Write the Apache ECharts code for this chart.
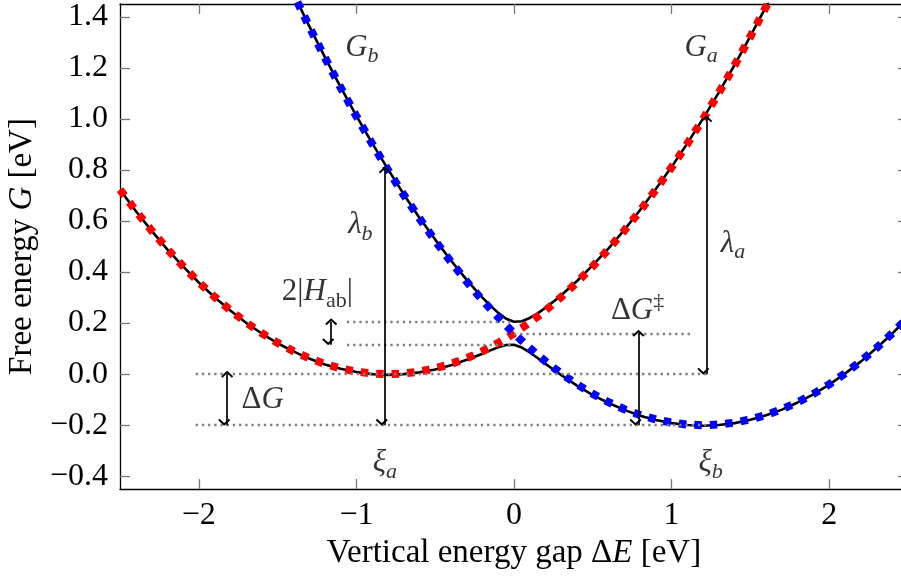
<!DOCTYPE html>
<html>
<head>
<meta charset="utf-8">
<script src="https://cdn.jsdelivr.net/npm/echarts@6.0.0/dist/echarts.min.js"></script>
<style>
  html, body { margin: 0; padding: 0; background: #fff; }
  #chart { width: 901px; height: 577px; }
</style>
</head>
<body>
<div id="chart"></div>
<script>
// vertical energy gap samples (eV), denser around the crossing
const gapX = [-2.5, -2.4, -2.3, -2.2, -2.1, -2.0, -1.9, -1.8, -1.7, -1.6, -1.5, -1.4, -1.3, -1.2, -1.1, -1.0,
  -0.9, -0.8, -0.7, -0.6, -0.5, -0.4, -0.3, -0.25, -0.2, -0.15, -0.1, -0.05, 0, 0.05, 0.1, 0.15, 0.2, 0.25,
  0.3, 0.4, 0.5, 0.6, 0.7, 0.8, 0.9, 1.0, 1.1, 1.2, 1.3, 1.4, 1.5, 1.6, 1.7, 1.8, 1.9, 2.0, 2.1, 2.2, 2.3, 2.4, 2.5];

// diabatic G_a (red)
const gA = [0.7225, 0.64, 0.5625, 0.49, 0.4225, 0.36, 0.3025, 0.25, 0.2025, 0.16, 0.1225, 0.09, 0.0625, 0.04, 0.0225, 0.01,
  0.0025, 0, 0.0025, 0.01, 0.0225, 0.04, 0.0625, 0.0756, 0.09, 0.1056, 0.1225, 0.1406, 0.16, 0.1806, 0.2025, 0.2256, 0.25, 0.2756,
  0.3025, 0.36, 0.4225, 0.49, 0.5625, 0.64, 0.7225, 0.81, 0.9025, 1.0, 1.1025, 1.21, 1.3225, 1.44, 1.5625, null, null, null, null, null, null, null, null];

// diabatic G_b (blue)
const gB = [null, null, null, null, null, null, null, null, null, null, 1.6225, 1.49, 1.3625, 1.24, 1.1225, 1.01,
  0.9025, 0.8, 0.7025, 0.61, 0.5225, 0.44, 0.3625, 0.3256, 0.29, 0.2556, 0.2225, 0.1906, 0.16, 0.1306, 0.1025, 0.0756, 0.05, 0.0256,
  0.0025, -0.04, -0.0775, -0.11, -0.1375, -0.16, -0.1775, -0.19, -0.1975, -0.2, -0.1975, -0.19, -0.1775, -0.16, -0.1375, -0.11, -0.0775, -0.04, 0.0025, 0.05, 0.1025, 0.16, 0.2225];

// adiabatic ground and excited states (black)
const gLower = [0.722, 0.639, 0.562, 0.489, 0.422, 0.359, 0.301, 0.249, 0.201, 0.159, 0.121, 0.089, 0.061, 0.038, 0.021, 0.008,
  0.000, -0.003, 0.000, 0.007, 0.018, 0.035, 0.056, 0.068, 0.080, 0.093, 0.105, 0.114, 0.115, 0.104, 0.085, 0.063, 0.040, 0.018,
  -0.004, -0.045, -0.082, -0.113, -0.140, -0.163, -0.180, -0.192, -0.199, -0.202, -0.199, -0.192, -0.179, -0.161, -0.139, -0.111, -0.079, -0.041, 0.002, 0.049, 0.102, 0.159, 0.222];
const gUpper = [null, null, null, null, null, null, null, null, null, null, 1.624, 1.492, 1.364, 1.242, 1.124, 1.012,
  0.905, 0.803, 0.705, 0.613, 0.527, 0.445, 0.369, 0.334, 0.300, 0.268, 0.240, 0.217, 0.205, 0.207, 0.220, 0.238, 0.260, 0.284,
  0.309, 0.365, 0.427, 0.493, 0.565, 0.643, 0.725, 0.812, 0.904, 1.002, 1.104, 1.212, 1.324, 1.441, 1.564, null, null, null, null, null, null, null, null];

const xTicks = [-2, -1, 0, 1, 2];
const yTicks = [-0.4, -0.2, 0, 0.2, 0.4, 0.6, 0.8, 1.0, 1.2, 1.4];

// dotted guides: [level, from x, to x]
const guides = [[0.205, -1.06, 0], [0.115, -1.06, 0], [0.16, 0, 1.12], [0, -2.02, 1.22], [-0.2, -2.02, 1.22]];
// double arrows: [x, top, bottom]
const arrows = [[-1.82, 0, -0.2], [-1.16, 0.205, 0.115], [-0.82, 0.8, -0.2], [0.79, 0.16, -0.2], [1.22, 1.0, 0]];
// annotations: [text, x, y]
const notes = [
  ['{m|G}{s|b}', -0.965, 1.279],
  ['{m|G}{s|a}', 1.187, 1.279],
  ['{m|λ}{s|b}', -0.975, 0.583],
  ['{m|λ}{s|a}', 1.39, 0.511],
  ['{r|2|}{m|H}{su|ab}{r||}', -1.248, 0.321],
  ['{r|Δ}{m|G}{p|‡}', 0.784, 0.246],
  ['{r|Δ}{m|G}', -1.594, -0.102],
  ['{m|ξ}{s|a}', -0.819, -0.348],
  ['{m|ξ}{s|b}', 1.248, -0.348]
];

const F = 'Liberation Serif';
const rich = {
  m: { fontFamily: F, fontSize: 31, fontStyle: 'italic', lineHeight: 40, color: '#000' },
  r: { fontFamily: F, fontSize: 31, lineHeight: 40, color: '#000' },
  s: { fontFamily: F, fontSize: 22, fontStyle: 'italic', lineHeight: 22, verticalAlign: 'bottom', color: '#000' },
  su: { fontFamily: F, fontSize: 22, lineHeight: 22, verticalAlign: 'bottom', color: '#000' },
  p: { fontFamily: F, fontSize: 22, lineHeight: 22, verticalAlign: 'top', color: '#000' }
};

const arrowHead = 'path://M5,0L10,4.6L8.9,5.8L5,2.2L1.1,5.8L0,4.6Z';

function pts(vals) {
  return gapX.map((x, i) => [x, vals[i]]).filter(p => p[1] != null);
}
function fmtY(v) {
  return (v < 0 ? '−' : '') + Math.abs(v).toFixed(1);
}
function fmtX(v) {
  return (v < 0 ? '−' : '') + Math.abs(v);
}

const chart = echarts.init(document.getElementById('chart'));

const tickStyle = { color: '#777', width: 1.3 };
const borderStyle = { color: '#000', width: 1.3 };

const option = {
  animation: false,
  grid: { left: 120, top: 4, width: 788, height: 485, outerBoundsMode: 'none' },
  xAxis: [
    {
      type: 'value', min: -2.5, max: 2.5, position: 'bottom',
      axisLine: { show: true, onZero: false, lineStyle: borderStyle },
      axisTick: { inside: true, length: 10, lineStyle: tickStyle, customValues: xTicks },
      axisLabel: { customValues: xTicks, formatter: fmtX, fontFamily: F, fontSize: 32, color: '#000', margin: 11 },
      splitLine: { show: false },
      name: 'Vertical energy gap {r|Δ}{i|E} [eV]',
      nameLocation: 'middle', nameGap: 44,
      nameTextStyle: {
        fontFamily: F, fontSize: 33, color: '#000',
        rich: { i: { fontFamily: F, fontSize: 33, fontStyle: 'italic' }, r: { fontFamily: F, fontSize: 33 } }
      }
    },
    {
      type: 'value', min: -2.5, max: 2.5, position: 'top',
      axisLine: { show: true, onZero: false, lineStyle: borderStyle },
      axisTick: { inside: true, length: 10, lineStyle: tickStyle, customValues: xTicks },
      axisLabel: { show: false },
      splitLine: { show: false }
    }
  ],
  yAxis: [
    {
      type: 'value', min: -0.45, max: 1.45, position: 'left',
      axisLine: { show: true, onZero: false, lineStyle: borderStyle },
      axisTick: { inside: true, length: 10, lineStyle: tickStyle, customValues: yTicks },
      axisLabel: { customValues: yTicks, formatter: fmtY, fontFamily: F, fontSize: 32, color: '#000', margin: 12 },
      splitLine: { show: false },
      name: 'Free energy {i|G} [eV]',
      nameLocation: 'middle', nameGap: 74, nameRotate: 90,
      nameTextStyle: {
        fontFamily: F, fontSize: 33, color: '#000',
        rich: { i: { fontFamily: F, fontSize: 33, fontStyle: 'italic' } }
      }
    },
    {
      type: 'value', min: -0.45, max: 1.45, position: 'right',
      axisLine: { show: true, onZero: false, lineStyle: borderStyle },
      axisTick: { inside: true, length: 10, lineStyle: tickStyle, customValues: yTicks },
      axisLabel: { show: false },
      splitLine: { show: false }
    }
  ],
  series: [
    {
      name: 'guides', type: 'line', data: [], z: 1, silent: true,
      markLine: {
        silent: true, symbol: ['none', 'none'], label: { show: false },
        lineStyle: { color: '#7f7f7f', width: 2.3, type: [2.3, 3.9] },
        emphasis: { disabled: true },
        data: guides.map(g => [{ coord: [g[1], g[0]] }, { coord: [g[2], g[0]] }])
      }
    },
    {
      name: 'arrows', type: 'line', data: [], z: 2, silent: true,
      markLine: {
        silent: true, symbol: [arrowHead, arrowHead], symbolSize: [12, 7], symbolOffset: [0, 3],
        label: { show: false },
        lineStyle: { color: '#000', width: 1.7, type: 'solid' },
        emphasis: { disabled: true },
        data: arrows.map(a => [{ coord: [a[0], a[1]] }, { coord: [a[0], a[2]] }])
      }
    },
    {
      name: 'lower', type: 'line', data: pts(gLower), showSymbol: false, z: 3, silent: true,
      lineStyle: { color: '#000', width: 2.6 }
    },
    {
      name: 'upper', type: 'line', data: pts(gUpper), showSymbol: false, z: 3, silent: true,
      lineStyle: { color: '#000', width: 2.6 }
    },
    {
      name: 'Ga', type: 'line', data: pts(gA), showSymbol: false, z: 4, silent: true,
      lineStyle: { color: '#ff0000', width: 8, type: [7.5, 8] }
    },
    {
      name: 'Gb', type: 'line', data: pts(gB), showSymbol: false, z: 4, silent: true,
      lineStyle: { color: '#0000ff', width: 8, type: [7.5, 8] }
    },
    {
      name: 'notes', type: 'scatter', symbolSize: 1, z: 5, silent: true,
      itemStyle: { color: 'rgba(0,0,0,0)' },
      label: { show: true, position: 'inside', color: '#000', textBorderWidth: 0, rich: rich },
      data: notes.map(n => ({ value: [n[1], n[2]], label: { formatter: n[0] } }))
    }
  ]
};

chart.setOption(option);

window.addEventListener('resize', _ => {
  chart.resize();
});
</script>
</body>
</html>
